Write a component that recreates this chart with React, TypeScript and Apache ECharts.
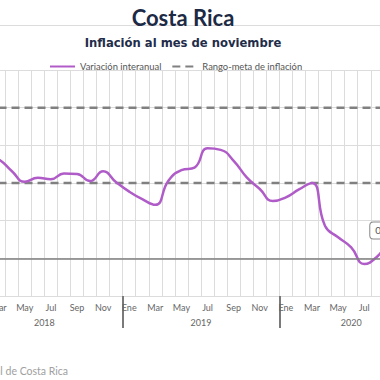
import React, { useEffect, useRef } from "react";
import * as echarts from "echarts";

const anios = ["2018", "2019", "2020"];
const mesesNombre = ["Ene", "Feb", "Mar", "Abr", "May", "Jun", "Jul", "Ago", "Sep", "Oct", "Nov", "Dic"];
const mesesPorAnio = [12, 12, 11];

// Variación interanual del IPC (%)
const inflacion = [
  2.6, 2.75, 2.63, 2.32, 2.03, 2.14, 2.1, 2.25, 2.24, 2.05, 2.31, 2.02,
  1.77, 1.57, 1.42, 2.06, 2.34, 2.41, 2.92, 2.88, 2.59, 2.15, 1.84, 1.52,
  1.62, 1.83, 2.0, 0.86, 0.56, 0.29, -0.15, 0.05, 0.45, 0.55, 0.74,
];

const metaSuperior = 4;
const metaInferior = 2;

const PURPLE = "#b05cc8";
const FONT = "Lato";

export default function App() {
  const ref = useRef<HTMLDivElement>(null);
  useEffect(() => {
    if (!ref.current) return;
    const chart = echarts.init(ref.current, null, { renderer: "svg" });

    const periodos: string[] = [];
    const mesIdx: number[] = [];
    const centrosAnio: { v: number; t: string }[] = [];
    let start = 0;
    anios.forEach((a, i) => {
      for (let m = 0; m < mesesPorAnio[i]; m++) {
        periodos.push(a + "-" + (m + 1));
        mesIdx.push(m);
      }
      centrosAnio.push({ v: start + mesesPorAnio[i] / 2, t: a });
      start += mesesPorAnio[i];
    });
    const n = periodos.length;
    const last = n - 1;

    const dataInfl = inflacion.map((v, i) =>
      i === last
        ? {
            value: v,
            symbol: "circle",
            symbolSize: 1,
            label: {
              show: true,
              position: "left",
              distance: 8,
              formatter: (p: any) => String(p.value).replace(".", ",") + "%",
              fontFamily: FONT,
              fontSize: 10,
              color: "#555",
              backgroundColor: "#fff",
              borderColor: "#888",
              borderWidth: 1,
              borderRadius: 3,
              padding: [3, 5],
            },
          }
        : v
    );

    chart.setOption({
      animation: false,
      textStyle: { fontFamily: FONT },
      title: [
        {
          text: "Costa Rica",
          left: "center",
          top: 1,
          textStyle: { fontFamily: FONT, fontWeight: "bold", fontSize: 22, color: "#1c2a45" },
        },
        {
          text: "Inflación al mes de noviembre",
          left: "center",
          top: 32,
          textStyle: { fontFamily: "DejaVu Sans", fontWeight: "bold", fontSize: 11.6, color: "#1f2d4a" },
        },
      ],
      graphic: [
        {
          type: "line",
          silent: true,
          shape: { x1: 0, y1: 25.5, x2: 546, y2: 25.5 },
          style: { stroke: "#dcdcdc", lineWidth: 1 },
        },
        {
          type: "text",
          silent: true,
          x: 158,
          y: 371,
          style: {
            text: "Fuente: Banco Central de Costa Rica",
            align: "right",
            verticalAlign: "middle",
            fontFamily: FONT,
            fontSize: 10.5,
            fill: "#a0a0a0",
          },
        },
      ],
      legend: {
        left: 134,
        top: 57,
        itemWidth: 25,
        itemHeight: 4,
        itemGap: 10,
        itemStyle: { opacity: 0 },
        textStyle: { fontFamily: FONT, fontSize: 9.4, color: "#555" },
        data: ["Variación interanual", "Rango-meta de inflación"],
      },
      grid: { left: 56, right: 33, top: 70, bottom: 84 },
      xAxis: [
        {
          type: "category",
          data: periodos,
          boundaryGap: true,
          axisLine: { show: true, onZero: false, lineStyle: { color: "#dcdcdc" } },
          axisTick: {
            show: true,
            interval: (i: number) => mesIdx[i] === 0 && i > 0,
            length: 32,
            lineStyle: { color: "#7a7a7a", width: 2 },
          },
          axisLabel: {
            interval: 1,
            formatter: (v: string, i: number) => mesesNombre[mesIdx[i]],
            color: "#666",
            fontSize: 9,
            margin: 7,
            fontFamily: FONT,
          },
          splitLine: { show: true, interval: 0, lineStyle: { color: "#dcdcdc", width: 1 } },
        },
        {
          type: "value",
          min: 0,
          max: n,
          interval: 0.5,
          position: "bottom",
          axisLine: { show: false, onZero: false },
          axisTick: { show: false },
          splitLine: { show: false },
          axisLabel: {
            margin: 22,
            color: "#666",
            fontSize: 9,
            fontFamily: FONT,
            formatter: (v: number) => {
              const c = centrosAnio.find((x) => Math.abs(x.v - v) < 1e-6);
              return c ? c.t : "";
            },
          },
        },
      ],
      yAxis: {
        type: "value",
        min: -1,
        max: 5,
        interval: 1,
        axisLine: { show: false },
        axisTick: { show: false },
        axisLabel: { color: "#666", fontSize: 9, formatter: "{value}%" },
        splitLine: { lineStyle: { color: "#dcdcdc", width: 1 } },
      },
      series: [
        {
          name: "Rango-meta de inflación",
          type: "line",
          symbol: "none",
          data: periodos.map(() => metaSuperior),
          lineStyle: { color: "#808080", width: 2.5, type: [8, 5] },
          itemStyle: { color: "#808080" },
          z: 2,
          silent: true,
        },
        {
          name: "Rango-meta de inflación",
          type: "line",
          symbol: "none",
          data: periodos.map(() => metaInferior),
          lineStyle: { color: "#808080", width: 2.5, type: [8, 5] },
          itemStyle: { color: "#808080" },
          z: 2,
          silent: true,
        },
        {
          name: "Variación interanual",
          type: "line",
          symbol: "none",
          showSymbol: true,
          smooth: 0.5,
          data: dataInfl,
          lineStyle: { color: PURPLE, width: 2.5 },
          itemStyle: { color: PURPLE },
          z: 3,
          markLine: {
            silent: true,
            symbol: ["none", "none"],
            label: { show: false },
            lineStyle: { color: "#7f7f7f", type: "solid", width: 1.5 },
            data: [{ yAxis: 0 }],
          },
        },
      ],
    });
    return () => chart.dispose();
  }, []);

  return (
    <div style={{ position: "fixed", left: 0, top: 0, width: 380, height: 380, overflow: "hidden", background: "#fff" }}>
      <div ref={ref} style={{ position: "absolute", left: -90, top: 0, width: 546, height: 380 }} />
    </div>
  );
}
